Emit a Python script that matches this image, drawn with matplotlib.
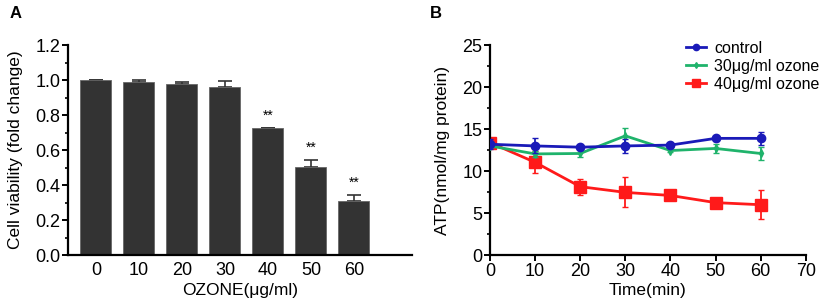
import matplotlib.pyplot as plt
import numpy as np

plt.rcParams['font.family'] = ['Liberation Sans', 'DejaVu Sans']

# Panel A: cell viability
doses = ['0', '10', '20', '30', '40', '50', '60']
viability = [1.0, 0.99, 0.98, 0.96, 0.725, 0.505, 0.31]
viability_err = [0.0, 0.008, 0.01, 0.035, 0.0, 0.04, 0.035]
signif = ['', '', '', '', '**', '**', '**']

# Panel B: ATP over time
times = [0, 10, 20, 30, 40, 50, 60]
control = [13.2, 13.0, 12.85, 13.0, 13.1, 13.9, 13.9]
control_err = [0.6, 0.9, 0.2, 0.85, 0.2, 0.3, 0.8]
ozone30 = [13.0, 12.05, 12.1, 14.2, 12.45, 12.7, 12.1]
ozone30_err = [0.3, 0.4, 0.4, 0.9, 0.2, 0.5, 0.75]
ozone40 = [13.4, 11.05, 8.15, 7.47, 7.1, 6.25, 6.0]
ozone40_err = [0.4, 1.3, 0.95, 1.8, 0.3, 0.6, 1.75]

fig = plt.figure(figsize=(8.29, 3.07), dpi=100)
axA = fig.add_axes([0.082, 0.169, 0.415, 0.684])
axB = fig.add_axes([0.591, 0.169, 0.381, 0.684])

for ax in (axA, axB):
    ax.spines['top'].set_visible(False)
    ax.spines['right'].set_visible(False)
    ax.spines['left'].set_linewidth(1.6)
    ax.spines['bottom'].set_linewidth(1.6)
    ax.tick_params(labelsize=13, width=1.4, length=4, pad=1.5)
    ax.tick_params(which='minor', width=1.2, length=2.5)

# --- A ---
x = np.arange(len(doses))
axA.bar(x, viability, width=0.72, color='#333333', edgecolor='#666666', linewidth=0.6, zorder=2)
axA.errorbar(x, viability, yerr=[np.zeros(len(x)), viability_err], fmt='none',
             ecolor='#333333', elinewidth=1.2, capsize=5, capthick=1.2, zorder=1)
for xi, v, e, s in zip(x, viability, viability_err, signif):
    if s:
        axA.text(xi, v + e + 0.03, s, ha='center', va='bottom', fontsize=10)
axA.set_xticks(x)
axA.set_xticklabels(doses)
axA.tick_params(axis='x', length=0, pad=5)
axA.set_xlim(-0.65, 7.35)
axA.set_ylim(0, 1.2)
axA.set_yticks(np.arange(0, 1.21, 0.2))
axA.set_yticks(np.arange(0, 1.21, 0.1), minor=True)
axA.yaxis.set_major_formatter(plt.FormatStrFormatter('%.1f'))
axA.set_xlabel('OZONE(μg/ml)', fontsize=12.5, labelpad=3)
axA.set_ylabel('Cell viability (fold change)', fontsize=12.5, labelpad=9)
fig.text(0.012, 0.955, 'A', fontsize=12, fontweight='bold', va='center')

# --- B ---
axB.errorbar(times, control, yerr=control_err, color='#1a1ab8', marker='o', markersize=6,
             linewidth=2, elinewidth=1.3, capsize=2.5, label='control', zorder=4)
axB.errorbar(times, ozone30, yerr=ozone30_err, color='#1fb36b', marker='d', markersize=4,
             linewidth=2, elinewidth=1.3, capsize=2.5, label='30μg/ml ozone', zorder=3)
axB.errorbar(times, ozone40, yerr=ozone40_err, color='#ff1a1a', marker='s', markersize=8,
             linewidth=2, elinewidth=1.3, capsize=2.5, label='40μg/ml ozone', zorder=2)
axB.set_xlim(0, 70)
axB.set_ylim(0, 25)
axB.set_xticks(range(0, 71, 10))
axB.set_yticks(range(0, 26, 5))
axB.set_yticks(np.arange(0, 25.1, 2.5), minor=True)
axB.set_xlabel('Time(min)', fontsize=12.5, labelpad=2)
axB.set_ylabel('ATP(nmol/mg protein)', fontsize=12.5, labelpad=9)
handles, labels = axB.get_legend_handles_labels()
handles = [h[0] for h in handles]
axB.legend(handles, labels, loc='upper right', bbox_to_anchor=(1.09, 1.09), frameon=False,
           fontsize=11.5, handlelength=1.3, handletextpad=0.5, labelspacing=0.2, markerscale=0.75)
fig.text(0.519, 0.955, 'B', fontsize=12, fontweight='bold', va='center')

fig.savefig('out.png', dpi=100)
